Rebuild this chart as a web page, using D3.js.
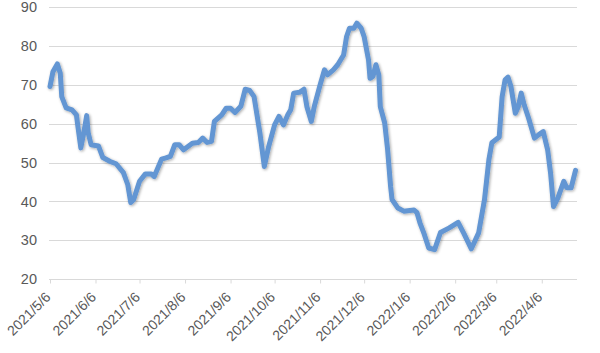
<!DOCTYPE html>
<html>
<head>
<meta charset="utf-8">
<script src="https://cdn.jsdelivr.net/npm/d3@7"></script>
<style>
  html, body { margin: 0; padding: 0; background: #fff; }
  svg { display: block; font-family: "Liberation Sans", Arial, sans-serif; }
</style>
</head>
<body>
<svg id="chart" width="600" height="353"></svg>
<script>
// ---- data ----
const dates = [
  "2021-05-06","2021-05-08","2021-05-11","2021-05-13","2021-05-14","2021-05-17","2021-05-21","2021-05-24",
  "2021-05-25","2021-05-27","2021-05-29","2021-05-31","2021-06-01","2021-06-03","2021-06-08","2021-06-11",
  "2021-06-16","2021-06-20","2021-06-25","2021-06-28","2021-06-30","2021-07-02","2021-07-06","2021-07-10",
  "2021-07-14","2021-07-16","2021-07-21","2021-07-24","2021-07-27","2021-07-30","2021-08-02","2021-08-05",
  "2021-08-11","2021-08-15","2021-08-18","2021-08-21","2021-08-24","2021-08-26","2021-08-31","2021-09-03",
  "2021-09-06","2021-09-09","2021-09-13","2021-09-16","2021-09-19","2021-09-22","2021-09-26","2021-09-29",
  "2021-10-02","2021-10-06","2021-10-09","2021-10-12","2021-10-15","2021-10-17","2021-10-19","2021-10-23",
  "2021-10-26","2021-10-28","2021-10-31","2021-11-02","2021-11-06","2021-11-09","2021-11-11","2021-11-15",
  "2021-11-18","2021-11-22","2021-11-24","2021-11-26","2021-11-29","2021-12-01","2021-12-04","2021-12-06",
  "2021-12-09","2021-12-10","2021-12-12","2021-12-14","2021-12-16","2021-12-17","2021-12-20","2021-12-22",
  "2021-12-24","2021-12-25","2021-12-29","2022-01-02","2022-01-09","2022-01-11","2022-01-13","2022-01-16",
  "2022-01-19","2022-01-23","2022-01-27","2022-02-02","2022-02-08","2022-02-12","2022-02-17","2022-02-22",
  "2022-02-26","2022-03-01","2022-03-03","2022-03-08","2022-03-10","2022-03-12","2022-03-14","2022-03-16",
  "2022-03-19","2022-03-21","2022-03-23","2022-03-25","2022-03-28","2022-04-01","2022-04-04","2022-04-07",
  "2022-04-10","2022-04-12","2022-04-14","2022-04-17","2022-04-21","2022-04-23","2022-04-26","2022-04-29"
];
const values = [
  69.6,73.4,75.4,73.0,67.0,64.1,63.6,62.3,
  59.3,53.8,57.7,62.1,57.7,54.6,54.3,51.3,
  50.3,49.7,47.4,44.3,39.7,40.5,45.2,47.1,
  47.1,46.4,50.9,51.2,51.6,54.6,54.6,53.3,
  55.0,55.2,56.3,55.2,55.5,60.6,62.3,64.0,
  64.0,62.9,64.5,68.9,68.6,67.0,57.6,49.0,
  54.2,59.7,61.9,59.7,62.3,63.6,67.9,68.1,
  68.9,64.4,60.6,64.4,70.0,73.9,72.6,73.9,
  75.2,77.7,82.4,84.6,84.6,85.9,84.6,82.4,
  76.4,71.7,72.2,75.2,72.6,64.4,60.2,53.3,
  43.9,40.5,38.3,37.5,37.8,37.1,34.5,31.5,
  28.0,27.6,32.0,33.2,34.6,31.7,27.8,31.9,
  40.5,50.8,55.1,56.6,67.0,71.3,72.0,69.6,
  62.7,64.4,67.9,64.9,61.5,56.3,57.2,58.0,
  53.3,47.3,38.7,40.9,45.2,43.5,43.5,48.0
];
const yTicks = [20, 30, 40, 50, 60, 70, 80, 90];
const xTickLabels = ["2021/5/6","2021/6/6","2021/7/6","2021/8/6","2021/9/6","2021/10/6",
  "2021/11/6","2021/12/6","2022/1/6","2022/2/6","2022/3/6","2022/4/6"];

// ---- chart ----
(function () {
const parse = d3.timeParse("%Y-%m-%d");
const parseTick = d3.timeParse("%Y/%m/%d");
const data = dates.map((d, i) => ({ date: parse(d), value: values[i] }));
const tickDates = xTickLabels.map(s => parseTick(s));

const svg = d3.select("#chart");
const mLeft = 50, mRight = 577, mTop = 7.3, mBottom = 279.1;

const x = d3.scaleTime()
  .domain([parse("2021-05-06"), parse("2022-04-30")])
  .range([mLeft, mRight]);
const y = d3.scaleLinear().domain([20, 90]).range([mBottom, mTop]);

// gridlines
svg.append("g")
  .selectAll("line")
  .data(yTicks.filter(t => t !== 20))
  .join("line")
  .attr("x1", mLeft - 1).attr("x2", mRight)
  .attr("y1", d => Math.round(y(d)) + 0.5).attr("y2", d => Math.round(y(d)) + 0.5)
  .attr("stroke", "#d9d9d9").attr("stroke-width", 1);

// y axis labels
const yAxis = d3.axisLeft(y).tickValues(yTicks).tickSize(0).tickPadding(0);
const gy = svg.append("g").attr("transform", `translate(${mLeft - 13},0)`).call(yAxis);
gy.select(".domain").remove();
gy.selectAll("text")
  .attr("fill", "#595959")
  .style("font-size", "14.5px")
  .style("font-family", "'Liberation Sans', Arial, sans-serif");

// x axis
const xAxis = d3.axisBottom(x)
  .tickValues(tickDates)
  .tickFormat((d, i) => xTickLabels[i])
  .tickSize(4).tickSizeOuter(0);
const gx = svg.append("g").attr("transform", `translate(0,${Math.round(mBottom) + 0.5})`).call(xAxis);
gx.select(".domain").attr("stroke", "#d9d9d9").attr("stroke-width", 1.2)
  .attr("d", `M${mLeft - 1},0H${mRight}`);
gx.selectAll(".tick line").attr("stroke", "#d9d9d9");
gx.selectAll("text")
  .attr("fill", "#595959")
  .style("font-size", "14px")
  .style("font-family", "'Liberation Sans', Arial, sans-serif")
  .attr("text-anchor", "end")
  .attr("x", 0).attr("y", 0).attr("dx", 0).attr("dy", 0)
  .attr("transform", "translate(1,18.5) rotate(-45)");

// shadow filter
const defs = svg.append("defs");
const f = defs.append("filter").attr("id", "glow").attr("x", "-5%").attr("y", "-10%")
  .attr("width", "110%").attr("height", "120%");
f.append("feGaussianBlur").attr("in", "SourceAlpha").attr("stdDeviation", 1.6).attr("result", "blur");
f.append("feOffset").attr("in", "blur").attr("dx", 0.6).attr("dy", 1).attr("result", "off");
f.append("feComponentTransfer").attr("in", "off").attr("result", "soft")
  .append("feFuncA").attr("type", "linear").attr("slope", 0.35);
const m = f.append("feMerge");
m.append("feMergeNode").attr("in", "soft");
m.append("feMergeNode").attr("in", "SourceGraphic");

const line = d3.line()
  .x(d => x(d.date))
  .y(d => y(d.value));

svg.append("path")
  .datum(data)
  .attr("d", line)
  .attr("fill", "none")
  .attr("stroke", "#6396d3")
  .attr("stroke-width", 5)
  .attr("stroke-linejoin", "round")
  .attr("stroke-linecap", "round")
  .attr("filter", "url(#glow)");
})();
</script>
</body>
</html>
